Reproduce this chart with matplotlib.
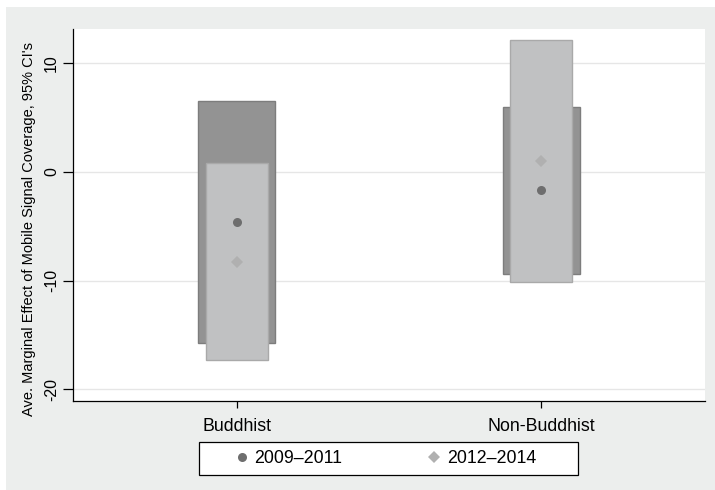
import matplotlib
matplotlib.use("Agg")
import matplotlib.pyplot as plt
from matplotlib.patches import Rectangle
from matplotlib.lines import Line2D
import numpy as np

plt.rcParams['font.family'] = ['Liberation Sans', 'DejaVu Sans']

categories = ["Buddhist", "Non-Buddhist"]
series_labels = ["2009\u20132011", "2012\u20132014"]
est_0911 = [-4.6, -1.7]
lo_0911 = [-15.7, -9.4]
hi_0911 = [6.5, 6.0]
est_1214 = [-8.3, 1.0]
lo_1214 = [-17.3, -10.1]
hi_1214 = [0.8, 12.15]
yticks = [-20, -10, 0, 10]

W, H = 715, 490
fig = plt.figure(figsize=(7.15, 4.9), dpi=100, facecolor='white')
fig.patches.append(Rectangle((6/W, 0), 1 - 6/W, 1 - 7/H, transform=fig.transFigure,
                             facecolor='#eceeed', edgecolor='none', zorder=-5))
ax = fig.add_axes([73/W, 1 - 401/H, (705 - 73)/W, (401 - 29)/H])
ax.set_facecolor('white')

x = np.arange(1, len(categories) + 1)
lo1 = np.array(lo_0911); hi1 = np.array(hi_0911)
lo2 = np.array(lo_1214); hi2 = np.array(hi_1214)

ax.bar(x, hi1 - lo1, bottom=lo1, width=0.254, color='#939393', edgecolor='#7d7d7d',
       linewidth=1.0, zorder=2)
ax.bar(x, hi2 - lo2, bottom=lo2, width=0.202, color='#c0c1c2', edgecolor='#a9a9a9',
       linewidth=1.0, zorder=3)
ax.plot(x, est_0911, linestyle='none', marker='o', markersize=6.5, color='#6e6e6e',
        markeredgewidth=0, zorder=5)
ax.plot(x, est_1214, linestyle='none', marker='D', markersize=6.0, color='#b0b0b0',
        markeredgewidth=0, zorder=5)

ax.set_xlim(0.462, 2.538)
ax.set_ylim(-21.08, 13.16)
ax.set_yticks(yticks)
ax.set_yticklabels([str(t) for t in yticks], rotation=90, va='center', fontsize=11.5)
ax.set_xticks(x)
ax.set_xticklabels(categories, fontsize=12.8)
ax.yaxis.grid(True, color='#e6e6e6', linewidth=1.0, zorder=0)
ax.set_axisbelow(True)
for s in ['top', 'right']:
    ax.spines[s].set_visible(False)
ax.spines['left'].set_color('black')
ax.spines['bottom'].set_color('black')
ax.spines['left'].set_linewidth(0.9)
ax.spines['bottom'].set_linewidth(0.9)
ax.tick_params(axis='y', length=7, width=0.9, pad=3)
ax.tick_params(axis='x', length=5, width=0.9, pad=7)

ax.set_ylabel("Ave. Marginal Effect of Mobile Signal Coverage, 95% CI's", fontsize=10.5)
ax.yaxis.set_label_coords((29 - 73)/632, (401 - 229)/372)
ax.yaxis.label.set_va('center')

# legend frame
lx0, lx1, ly0, ly1 = 199.3, 578.3, 441.7, 475.0
fig.patches.append(Rectangle((lx0/W, 1 - ly1/H), (lx1 - lx0)/W, (ly1 - ly0)/H,
                             transform=fig.transFigure, facecolor='white',
                             edgecolor='black', linewidth=0.9, zorder=1))
handles = [Line2D([], [], linestyle='none', marker='o', markersize=6.5, color='#6e6e6e',
                  markeredgewidth=0),
           Line2D([], [], linestyle='none', marker='D', markersize=6.0, color='#b0b0b0',
                  markeredgewidth=0)]
leg = fig.legend(handles, series_labels, loc='center',
                 bbox_to_anchor=(385.3/W, 1 - (ly0 + ly1)/2/H), ncol=2,
                 frameon=False, fontsize=12.8, handlelength=0.8, handletextpad=0.3,
                 columnspacing=4.8, borderpad=0.0, borderaxespad=0)
leg.set_zorder(2)

fig.savefig("out.png", dpi=100, facecolor=fig.get_facecolor())
